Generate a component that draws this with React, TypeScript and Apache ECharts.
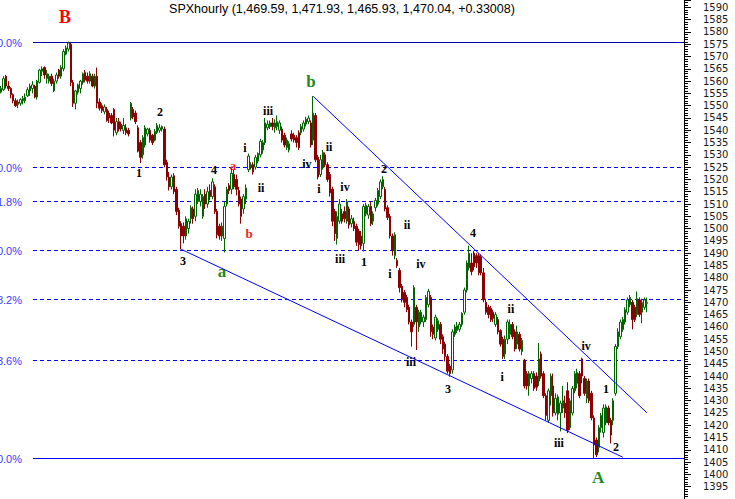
import React, { useEffect, useRef } from 'react';
import * as echarts from 'echarts';

// ---- hourly bars ----
const opens = [
  1555.5, 1556.5, 1562, 1558, 1557, 1554.5, 1552, 1550.5, 1551, 1552,
  1552, 1554, 1556, 1557, 1558, 1553.5, 1559.5, 1564, 1565.5, 1561,
  1560, 1562, 1556, 1560, 1564.5, 1562, 1565, 1571, 1573, 1575,
  1559.5, 1551, 1555.5, 1557, 1559.5, 1563.5, 1562, 1560, 1562, 1558,
  1562, 1551.5, 1550, 1547.5, 1548.5, 1547, 1546, 1548.5, 1539, 1543.5,
  1542.5, 1540, 1541, 1540, 1545, 1548.5, 1547, 1541, 1535, 1530,
  1534, 1538.5, 1540, 1538, 1536, 1539, 1540, 1540.5, 1540.5, 1527,
  1521, 1517, 1521.5, 1516, 1507.5, 1502, 1501, 1497, 1500, 1504,
  1508, 1505, 1511, 1511, 1505, 1514, 1510, 1515.5, 1513, 1517,
  1507, 1501, 1497, 1496, 1510, 1517.5, 1516, 1522, 1520, 1515.5,
  1512, 1508, 1512, 1524, 1525, 1526, 1525, 1527.5, 1530, 1532,
  1535, 1541, 1541.5, 1543, 1541, 1541.5, 1540, 1540.5, 1538, 1533,
  1532, 1538.5, 1538, 1537, 1539, 1539, 1540.5, 1542.5, 1543.5, 1543,
  1536, 1546, 1529, 1522, 1525, 1530, 1526, 1522, 1516, 1507,
  1496, 1503, 1506, 1507, 1503, 1508, 1502, 1503, 1501, 1499,
  1497, 1494, 1506, 1505.5, 1509, 1503, 1508.5, 1510, 1513, 1517,
  1516, 1508.5, 1505, 1497, 1489, 1487, 1483, 1476.5, 1474, 1472,
  1468, 1462, 1461, 1468, 1460, 1462, 1462, 1463, 1469, 1472,
  1460, 1455.5, 1459, 1461, 1456, 1453, 1448, 1444, 1442.5, 1457,
  1458.5, 1459, 1461, 1466, 1475, 1484, 1486, 1490, 1489, 1489,
  1488.5, 1482, 1470, 1468, 1467.5, 1466, 1461, 1463, 1458.5, 1455,
  1449, 1455, 1457, 1461, 1458, 1453, 1457, 1450, 1446.5, 1441,
  1436, 1439, 1441, 1440, 1438, 1449, 1441, 1432, 1422, 1432,
  1436, 1425, 1424.5, 1425, 1427, 1429, 1434, 1419, 1425, 1434,
  1437, 1441, 1447, 1439, 1431, 1438, 1433, 1423, 1414, 1411,
  1419, 1417, 1421, 1427, 1422, 1422, 1433, 1452, 1456, 1459,
  1462, 1466, 1469, 1470, 1468, 1465, 1471, 1466, 1468, 1469.59,
];
const closes = [
  1557, 1561, 1558, 1557, 1554.5, 1552, 1550, 1551.5, 1552.5, 1553,
  1553.5, 1556.5, 1558, 1558.5, 1553.5, 1560, 1564.5, 1565, 1562.5, 1563,
  1562, 1559, 1560, 1562.5, 1562, 1565.5, 1572, 1573.5, 1575.5, 1559.5,
  1551, 1556, 1558.5, 1560, 1563, 1560.5, 1560, 1563, 1558, 1562,
  1551, 1549, 1548, 1549.5, 1544, 1545, 1543, 1540, 1543.5, 1540.5,
  1540.5, 1542, 1539, 1538.5, 1551, 1545.5, 1543.5, 1531.5, 1529, 1537,
  1541, 1540.5, 1536, 1535, 1539.5, 1542, 1541, 1541.5, 1526, 1521,
  1517, 1521, 1515, 1507, 1501, 1497, 1497, 1504, 1503, 1508.5,
  1504, 1514, 1515.5, 1514, 1513, 1510, 1515, 1513, 1519, 1507,
  1497.5, 1497, 1501, 1509, 1516, 1515.5, 1522.5, 1517, 1516, 1510,
  1505, 1513, 1516.5, 1529.5, 1526, 1523, 1529, 1530.5, 1535.5, 1535,
  1543, 1542.5, 1543, 1541.5, 1543, 1543.5, 1543, 1536, 1534, 1536,
  1534.5, 1536.5, 1536, 1535, 1533, 1541.5, 1543, 1544.5, 1545, 1534,
  1547, 1528, 1521, 1528, 1531, 1526, 1520, 1514.5, 1503, 1498,
  1505, 1510, 1503, 1504, 1511, 1501.5, 1504, 1500, 1494.5, 1493.5,
  1493, 1509, 1509.5, 1509, 1502, 1506, 1511.5, 1515.5, 1519, 1520,
  1508, 1504.5, 1497, 1491, 1497.5, 1485, 1476, 1471, 1470, 1467,
  1462, 1458, 1476, 1462, 1466, 1466, 1464, 1472, 1474.5, 1458,
  1457, 1464, 1462.5, 1455, 1451, 1448, 1442, 1441, 1458, 1460,
  1460.5, 1461, 1465.5, 1475, 1486, 1490, 1482.5, 1484.5, 1486, 1482,
  1482, 1471, 1466, 1465, 1463, 1463.5, 1465, 1458, 1453, 1448,
  1455, 1462, 1461, 1456, 1451, 1458, 1451, 1454.5, 1436, 1436,
  1441, 1441, 1435, 1435.5, 1447, 1440, 1432, 1424, 1434, 1440,
  1425, 1431, 1431.5, 1429, 1430, 1425, 1418, 1430, 1435, 1441,
  1441.5, 1432, 1440, 1433, 1438, 1430, 1423, 1412, 1408, 1419,
  1424, 1427, 1427.5, 1421, 1416, 1430, 1452, 1458, 1462, 1463,
  1467, 1471, 1472, 1463, 1463, 1471.5, 1465, 1470, 1471, 1470.04,
];
const lows = [
  1555, 1556, 1557, 1556, 1553, 1551, 1549.5, 1549, 1550, 1550.5,
  1551, 1553.5, 1554, 1555, 1553, 1552.5, 1559, 1562, 1561, 1559,
  1559, 1558, 1555.5, 1559, 1561, 1561, 1564, 1570.5, 1572, 1558,
  1549.5, 1548.5, 1554.5, 1555, 1558.5, 1559.5, 1559, 1559, 1557.5, 1557,
  1549, 1548, 1547, 1546.5, 1543.5, 1543, 1542.5, 1537.5, 1538, 1539.5,
  1539.5, 1538.5, 1538, 1537.5, 1544, 1544.5, 1542.5, 1531, 1526.7, 1528.5,
  1533, 1537.5, 1535, 1534, 1535.5, 1538.5, 1539, 1539.5, 1525, 1519.5,
  1515.5, 1516, 1514, 1505.5, 1500, 1491.5, 1494, 1495.5, 1498, 1502,
  1502, 1503, 1510, 1509, 1504, 1508, 1508.5, 1511.5, 1512, 1506,
  1496, 1495.5, 1495, 1490.3, 1509, 1514, 1514, 1516, 1513.5, 1509,
  1502, 1506, 1510, 1523, 1524, 1522, 1524, 1526.5, 1529, 1530.5,
  1534, 1540, 1540.5, 1540, 1539, 1540, 1538.5, 1535, 1533, 1532,
  1531, 1535.5, 1535, 1533, 1532, 1538, 1539.5, 1541.5, 1542.5, 1533,
  1534, 1527, 1520, 1521, 1524, 1525, 1519, 1513, 1501, 1495,
  1493.5, 1502, 1502, 1502.5, 1502, 1500, 1500.5, 1499, 1493, 1491,
  1491.5, 1490.7, 1505, 1504, 1501, 1501.5, 1507, 1509, 1512, 1516,
  1507, 1503.5, 1496, 1489, 1487.5, 1484, 1474, 1470, 1468, 1466,
  1461, 1452, 1460, 1450.6, 1458, 1461, 1460, 1462, 1468, 1456,
  1455, 1454.5, 1458, 1453, 1449, 1446, 1441, 1439.8, 1441, 1456,
  1457.5, 1458, 1460, 1465, 1474, 1483, 1481, 1483, 1484, 1481,
  1481, 1470, 1465, 1463.5, 1462, 1462, 1460, 1457, 1452, 1447,
  1447, 1453, 1455, 1455, 1450, 1451, 1450, 1448.5, 1435, 1434.5,
  1432, 1437, 1434, 1434, 1436, 1439, 1431, 1422, 1421, 1428,
  1423.5, 1424, 1422, 1417.5, 1425, 1423, 1416.8, 1418, 1424, 1433,
  1435, 1431, 1437, 1432, 1429, 1429, 1422, 1406.6, 1407, 1409,
  1417, 1415, 1420, 1420, 1412.6, 1420, 1432, 1451, 1455, 1458,
  1461, 1465, 1468, 1459, 1462, 1464, 1464, 1461.5, 1467, 1465.93,
];
const highs = [
  1558, 1562, 1562.5, 1560, 1557.5, 1555, 1553, 1552.5, 1553, 1554,
  1555, 1557.5, 1559, 1560, 1558.5, 1560.5, 1565, 1566, 1566, 1564.5,
  1563, 1563, 1561, 1563.5, 1565, 1566.5, 1573, 1574.5, 1576.1, 1575.5,
  1560.5, 1556.5, 1559, 1560.5, 1563.5, 1564.5, 1563.5, 1564, 1563, 1563,
  1565.5, 1553, 1551, 1550.5, 1549.5, 1548, 1547, 1549, 1545, 1545,
  1543.5, 1545, 1542.5, 1541, 1551.5, 1549.5, 1548, 1542, 1536, 1538,
  1542, 1541, 1541, 1538.5, 1540.5, 1543, 1542.5, 1542, 1541.5, 1528,
  1523, 1522, 1522.5, 1517, 1508.5, 1503, 1502.5, 1505, 1504, 1509.5,
  1509, 1516, 1516.5, 1516, 1514, 1516, 1517, 1518, 1520.5, 1518,
  1508, 1502, 1502.5, 1511, 1517, 1518.5, 1524.5, 1524, 1522, 1517,
  1513, 1514, 1518, 1530.5, 1527, 1527, 1530, 1531, 1536.5, 1536,
  1545, 1544, 1544, 1545, 1544.5, 1546, 1544, 1541.5, 1539, 1537,
  1535.5, 1540, 1539, 1538, 1540, 1542.5, 1544, 1545.5, 1546, 1544,
  1553.9, 1547, 1530, 1530, 1532, 1531, 1527, 1523, 1517, 1508,
  1507, 1512, 1508, 1509, 1512, 1509, 1505.5, 1504.5, 1502, 1500,
  1499, 1510, 1510.5, 1510, 1511, 1507, 1512.5, 1516.5, 1520, 1521.3,
  1517, 1509.5, 1506, 1498, 1498.5, 1488, 1484, 1477.5, 1475, 1473,
  1469, 1463, 1477, 1469, 1467, 1467, 1465, 1473, 1475.5, 1473,
  1461, 1465, 1463.5, 1462, 1457, 1454, 1449, 1445, 1459, 1461,
  1462, 1462, 1466, 1476, 1487, 1493, 1490, 1491, 1490, 1490,
  1489.5, 1484, 1471.5, 1469, 1468.5, 1467, 1466, 1464, 1459, 1456,
  1456.5, 1463, 1463, 1462, 1459, 1460.5, 1458, 1455.5, 1447, 1442,
  1442, 1442, 1442, 1441.5, 1453.5, 1450, 1442, 1433, 1435, 1441,
  1441, 1433, 1432.5, 1430, 1436, 1432, 1437.5, 1431, 1436, 1442,
  1443, 1442, 1447.5, 1440, 1439, 1439, 1434, 1424, 1415, 1420,
  1425, 1428.5, 1428.5, 1428, 1423, 1431, 1453, 1459.5, 1463, 1464,
  1468, 1472, 1473, 1471, 1469, 1474.4, 1472, 1471.5, 1472, 1471.93,
];

// empty hourly slots kept after the last bar
const emptySlotsAfter = 15;

// price axis
const priceMin = 1390;
const priceMax = 1593;
const priceStep = 5;

// Fibonacci retracement of the B -> A swing
const fibHigh = 1576.1;
const fibLow = 1406.6;
const fibRatios = [1, 0.7, 0.618, 0.5, 0.382, 0.236, 0];
const fibLabels = ['100.0%', '70.0%', '61.8%', '50.0%', '38.2%', '23.6%', '0.0%'];

// trend lines: [bar index, price]
const upperTrend = [[130, 1553.8], [269, 1425.1]];
const lowerTrend = [[75, 1491.6], [259, 1407.0]];

// wave labels: text, bar position, price, kind
const waveLabels: [string, number, number, string][] = [
  ['B', 26.6, 1586.0, 'bigRed'],
  ['b', 129.1, 1559.9, 'bigGreen'],
  ['a', 92.0, 1482.5, 'bigGreen'],
  ['A', 248.7, 1398.6, 'bigGreen'],
  ['a', 96.6, 1525.7, 'smallRed'],
  ['b', 103.25, 1498.0, 'smallRed'],
  ['1', 57.4, 1522.8, 'wave'],
  ['2', 66.2, 1547.3, 'wave'],
  ['3', 75.75, 1487.0, 'wave'],
  ['4', 88.7, 1524.0, 'wave'],
  ['i', 101.6, 1532.6, 'wave'],
  ['ii', 108.25, 1516.7, 'wave'],
  ['iii', 111.2, 1547.7, 'wave'],
  ['iv', 127.4, 1526.1, 'wave'],
  ['ii', 136.6, 1533.4, 'wave'],
  ['i', 132.4, 1516.3, 'wave'],
  ['iv', 143.25, 1517.1, 'wave'],
  ['2', 159.5, 1524.4, 'wave'],
  ['iii', 141.2, 1487.8, 'wave'],
  ['1', 151.2, 1486.6, 'wave'],
  ['ii', 169.1, 1501.6, 'wave'],
  ['iv', 174.9, 1485.7, 'wave'],
  ['i', 162.0, 1481.7, 'wave'],
  ['4', 196.6, 1498.4, 'wave'],
  ['iii', 170.75, 1445.8, 'wave'],
  ['3', 186.2, 1434.8, 'wave'],
  ['ii', 212.4, 1467.4, 'wave'],
  ['i', 208.7, 1439.7, 'wave'],
  ['iv', 243.7, 1452.3, 'wave'],
  ['1', 252.0, 1434.6, 'wave'],
  ['iii', 232.4, 1412.8, 'wave'],
  ['2', 256.2, 1411.2, 'wave'],
];

const titleText = 'SPXhourly (1,469.59, 1,471.93, 1,465.93, 1,470.04, +0.33008)';

const labelStyles: Record<string, { color: string; size: number }> = {
  bigRed: { color: '#ff0000', size: 18 },
  bigGreen: { color: '#1f8a1f', size: 17 },
  smallRed: { color: '#ff1a1a', size: 13 },
  wave: { color: '#000000', size: 12 },
};

const W = 735;
const H = 499;
const GRID_RIGHT = 51;

export default function App() {
  const ref = useRef<HTMLDivElement>(null);

  useEffect(() => {
    const el = ref.current;
    if (!el) return;
    const chart = echarts.init(el, null, { renderer: 'svg' });
    const n = opens.length;
    const cats: string[] = [];
    for (let i = 0; i < n + emptySlotsAfter; i++) cats.push(String(i));
    const bars = opens.map((o, i) => [o, closes[i], lows[i], highs[i]]);

    chart.setOption({
      animation: false,
      backgroundColor: '#ffffff',
      grid: { left: 0, right: GRID_RIGHT, top: 0, bottom: 0, containLabel: false },
      xAxis: { type: 'category', data: cats, show: false, boundaryGap: true },
      yAxis: {
        type: 'value',
        position: 'right',
        min: priceMin,
        max: priceMax,
        interval: priceStep,
        axisLine: { show: true, lineStyle: { color: '#000', width: 1 } },
        axisTick: { show: true, length: 7, lineStyle: { color: '#000', width: 1 } },
        minorTick: { show: true, splitNumber: 5, length: 4, lineStyle: { color: '#000', width: 1 } },
        splitLine: { show: false },
        minorSplitLine: { show: false },
        axisLabel: {
          margin: 19,
          color: '#1a1a1a',
          fontFamily: '"DejaVu Sans", sans-serif',
          fontSize: 10,
          showMinLabel: false,
          showMaxLabel: false,
          formatter: (v: number) => String(v),
        },
      },
      series: [
        {
          type: 'candlestick',
          data: bars,
          barWidth: 2,
          itemStyle: {
            color: '#ffffff',
            color0: '#8b0000',
            borderColor: '#006400',
            borderColor0: '#8b0000',
            borderWidth: 1,
          },
          markLine: {
            silent: true,
            symbol: ['none', 'none'],
            label: { show: false },
            lineStyle: { color: '#0000ff', width: 1, type: 'solid' },
            data: [
              [{ coord: upperTrend[0] }, { coord: upperTrend[1] }],
              [{ coord: lowerTrend[0] }, { coord: lowerTrend[1] }],
            ],
          },
        },
      ],
    });

    const x0 = chart.convertToPixel({ xAxisIndex: 0 }, 0) as number;
    const x100 = chart.convertToPixel({ xAxisIndex: 0 }, 100) as number;
    const per = (x100 - x0) / 100;
    const xOf = (i: number) => x0 + i * per;
    const yOf = (p: number) => chart.convertToPixel({ yAxisIndex: 0 }, p) as number;
    const axisX = W - GRID_RIGHT;

    const graphics: any[] = [];
    fibRatios.forEach((r, k) => {
      const price = fibLow + (fibHigh - fibLow) * r;
      const y = Math.round(yOf(price)) + 0.5;
      const solid = r === 1 || r === 0;
      graphics.push({
        type: 'line',
        silent: true,
        shape: { x1: 33, y1: y, x2: axisX, y2: y },
        style: {
          stroke: r === 1 ? '#0000b0' : '#0000ff',
          lineWidth: 1,
          lineDash: solid ? null : [4, 3],
        },
      });
      graphics.push({
        type: 'text',
        silent: true,
        style: {
          x: 22,
          y: y,
          text: fibLabels[k],
          textAlign: 'right',
          textVerticalAlign: 'middle',
          align: 'right',
          verticalAlign: 'middle',
          fill: '#3a3aff',
          fontSize: 11,
          fontFamily: '"Liberation Sans", Arial, sans-serif',
        },
      });
    });

    waveLabels.forEach(([t, i, p, kind]) => {
      const st = labelStyles[kind];
      graphics.push({
        type: 'text',
        silent: true,
        style: {
          x: xOf(i),
          y: yOf(p),
          text: t,
          textAlign: 'center',
          textVerticalAlign: 'middle',
          align: 'center',
          verticalAlign: 'middle',
          fill: st.color,
          fontSize: st.size,
          fontWeight: 'bold',
          fontFamily: '"Liberation Serif", "Times New Roman", serif',
        },
      });
    });

    graphics.push({
      type: 'text',
      silent: true,
      style: {
        x: 342,
        y: 9,
        text: titleText,
        textAlign: 'center',
        textVerticalAlign: 'middle',
        align: 'center',
        verticalAlign: 'middle',
        fill: '#000000',
        fontSize: 12.5,
        fontFamily: '"Liberation Sans", Arial, sans-serif',
      },
    });

    chart.setOption({ graphic: graphics });

    return () => {
      chart.dispose();
    };
  }, []);

  return (
    <div
      ref={ref}
      style={{ position: 'fixed', left: 0, top: 0, width: W, height: H, background: '#ffffff' }}
    />
  );
}
